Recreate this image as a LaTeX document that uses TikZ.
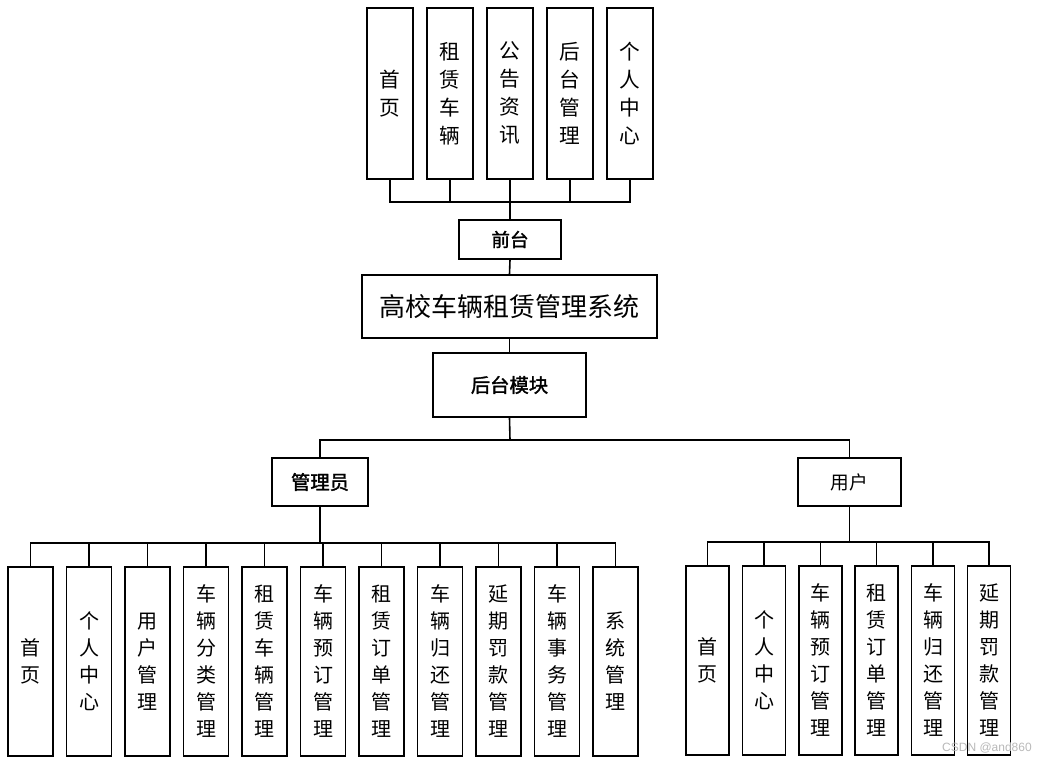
\documentclass[tikz,border=0pt]{standalone}
\usepackage{fontspec}
\newfontfamily\cjk{Noto Sans CJK SC}
\newfontfamily\cjkb{Noto Sans CJK SC}[FakeBold=1.6]
\newfontfamily\wm{Liberation Sans}
\newdimen\pxu \pxu=0.75pt
\tikzset{
  box/.style={draw=black, line width=1.2pt, fill=white, inner sep=0pt, align=center, font=\cjk},
  topbox/.style={box, minimum width=46\pxu, minimum height=171\pxu, font=\cjk\fontsize{15.5}{21}\selectfont},
  admbox/.style={box, minimum width=45\pxu, minimum height=189\pxu, font=\cjk\fontsize{15}{20.25}\selectfont},
  usrbox/.style={box, minimum width=43\pxu, minimum height=189\pxu, font=\cjk\fontsize{15}{20.25}\selectfont},
  conn/.style={draw=black, line width=1.2pt},
}
\begin{document}
\begin{tikzpicture}[x=0.75pt,y=-0.75pt]
\useasboundingbox (0,0) rectangle (1046,762);
% top boxes
\node[topbox] (t1) at (390,93.5) {首\\页};
\node[topbox] (t2) at (450,93.5) {租\\赁\\车\\辆};
\node[topbox] (t3) at (510,93.5) {公\\告\\资\\讯};
\node[topbox] (t4) at (570,93.5) {后\\台\\管\\理};
\node[topbox] (t5) at (630,93.5) {个\\人\\中\\心};
\node[box, minimum width=102\pxu, minimum height=39\pxu, font=\cjkb\fontsize{14}{16}\selectfont] (qt) at (510,239.5) {前台};
\node[box, minimum width=295\pxu, minimum height=63\pxu, font=\cjk\fontsize{19.5}{22}\selectfont] (sys) at (509.5,306.5) {高校车辆租赁管理系统};
\node[box, minimum width=153\pxu, minimum height=64\pxu, font=\cjkb\fontsize{14.5}{16}\selectfont] (ht) at (509.5,385) {后台模块};
\node[box, minimum width=96\pxu, minimum height=48\pxu, font=\cjkb\fontsize{14.5}{16}\selectfont] (adm) at (320,482) {管理员};
\node[box, minimum width=103\pxu, minimum height=48\pxu, font=\cjk\fontsize{14}{16}\selectfont] (usr) at (849.5,482) {用户};
% admin children
\node[admbox] (a1) at (30.5,661.5) {首\\页};
\node[admbox] (a2) at (89,661.5) {个\\人\\中\\心};
\node[admbox] (a3) at (147.5,661.5) {用\\户\\管\\理};
\node[admbox] (a4) at (206,661.5) {车\\辆\\分\\类\\管\\理};
\node[admbox] (a5) at (264.5,661.5) {租\\赁\\车\\辆\\管\\理};
\node[admbox] (a6) at (323,661.5) {车\\辆\\预\\订\\管\\理};
\node[admbox] (a7) at (381.5,661.5) {租\\赁\\订\\单\\管\\理};
\node[admbox] (a8) at (440,661.5) {车\\辆\\归\\还\\管\\理};
\node[admbox] (a9) at (498.5,661.5) {延\\期\\罚\\款\\管\\理};
\node[admbox] (a10) at (557,661.5) {车\\辆\\事\\务\\管\\理};
\node[admbox] (a11) at (615.5,661.5) {系\\统\\管\\理};
% user children
\node[usrbox] (u1) at (707.5,660.5) {首\\页};
\node[usrbox] (u2) at (764,660.5) {个\\人\\中\\心};
\node[usrbox] (u3) at (820.5,660.5) {车\\辆\\预\\订\\管\\理};
\node[usrbox] (u4) at (876.5,660.5) {租\\赁\\订\\单\\管\\理};
\node[usrbox] (u5) at (933,660.5) {车\\辆\\归\\还\\管\\理};
\node[usrbox] (u6) at (989,660.5) {延\\期\\罚\\款\\管\\理};
% bus coordinates
\coordinate (topbus) at (510,202);
\coordinate (midbus) at (510,440);
\coordinate (admbus) at (320,543);
\coordinate (usrbus) at (849.5,542);
% connectors
\foreach \n in {t1,t2,t3,t4,t5}{
  \draw[conn] (\n.south) -- (\n.south |- topbus) -| (qt.north);
}
\draw[conn] (qt.south) -- (sys.north);
\draw[conn] (sys.south) -- (ht.north);
\draw[conn] (ht.south) -- (midbus) -| (adm.north);
\draw[conn] (midbus) -| (usr.north);
\foreach \n in {a1,a2,a3,a4,a5,a6,a7,a8,a9,a10,a11}{
  \draw[conn] (\n.north) -- (\n.north |- admbus) -| (adm.south);
}
\foreach \n in {u1,u2,u3,u4,u5,u6}{
  \draw[conn] (\n.north) -- (\n.north |- usrbus) -| (usr.south);
}
\node[font=\wm\fontsize{9}{10}\selectfont, text=gray!55, anchor=east, inner sep=0pt] (wmk) at (1032,748) {CSDN @and860};
\end{tikzpicture}
\end{document}
